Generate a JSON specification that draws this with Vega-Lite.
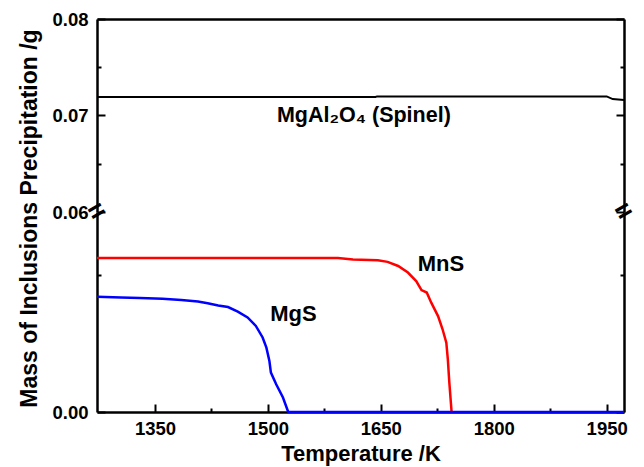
{
  "$schema": "https://vega.github.io/schema/vega-lite/v6.json",
  "padding": {"left": 17, "top": 10, "right": 5, "bottom": 5},
  "spacing": 0,
  "bounds": "flush",
  "datasets": {
    "spinel": [
      {"T": 1273, "mass": 0.07192},
      {"T": 1643, "mass": 0.07192},
      {"T": 1645, "mass": 0.07198},
      {"T": 1950, "mass": 0.07198},
      {"T": 1958, "mass": 0.0717},
      {"T": 1973, "mass": 0.0716}
    ],
    "mns": [
      {"T": 1273, "mass": 0.00562},
      {"T": 1593, "mass": 0.00562},
      {"T": 1613, "mass": 0.00557},
      {"T": 1646, "mass": 0.00554},
      {"T": 1659, "mass": 0.00548},
      {"T": 1673, "mass": 0.00533},
      {"T": 1686, "mass": 0.00509},
      {"T": 1697, "mass": 0.00478},
      {"T": 1704, "mass": 0.00445},
      {"T": 1711, "mass": 0.00436},
      {"T": 1717, "mass": 0.00399},
      {"T": 1726, "mass": 0.0035},
      {"T": 1732, "mass": 0.00302},
      {"T": 1737, "mass": 0.00253},
      {"T": 1739, "mass": 0.00192},
      {"T": 1741, "mass": 0.00107},
      {"T": 1744, "mass": 0}
    ],
    "mgs": [
      {"T": 1273, "mass": 0.00421},
      {"T": 1305, "mass": 0.00418},
      {"T": 1330, "mass": 0.00416},
      {"T": 1360, "mass": 0.00413},
      {"T": 1385, "mass": 0.00409},
      {"T": 1407, "mass": 0.00403},
      {"T": 1420, "mass": 0.00397},
      {"T": 1434, "mass": 0.00389},
      {"T": 1447, "mass": 0.00383},
      {"T": 1460, "mass": 0.00366},
      {"T": 1473, "mass": 0.00345},
      {"T": 1484, "mass": 0.00314},
      {"T": 1493, "mass": 0.00272},
      {"T": 1498, "mass": 0.00235},
      {"T": 1502, "mass": 0.00186},
      {"T": 1504, "mass": 0.00144},
      {"T": 1511, "mass": 0.00101},
      {"T": 1520, "mass": 0.00053},
      {"T": 1527, "mass": 0},
      {"T": 1973, "mass": 0}
    ],
    "topLabels": [{"T": 1512, "mass": 0.07, "label": "MgAl₂O₄ (Spinel)"}],
    "bottomLabels": [
      {"T": 1699, "mass": 0.00539, "label": "MnS"},
      {"T": 1503, "mass": 0.00357, "label": "MgS"}
    ],
    "breaks": [{"T": 1273, "mass": 0.06}, {"T": 1973, "mass": 0.06}]
  },
  "vconcat": [
    {
      "width": 527,
      "height": 193,
      "encoding": {
        "x": {
          "field": "T", "type": "quantitative",
          "scale": {"domain": [1273, 1973], "nice": false, "zero": false},
          "axis": {"orient": "top", "labels": false, "ticks": false, "title": null, "domain": true}
        }
      },
      "layer": [
        {
          "data": {"name": "spinel"},
          "mark": {"type": "line", "color": "black", "strokeWidth": 2},
          "encoding": {
            "y": {
              "field": "mass", "type": "quantitative",
              "scale": {"domain": [0.06, 0.08], "nice": false, "zero": false},
              "axis": {
                "orient": "left",
                "values": [0.06, 0.065, 0.07, 0.075, 0.08],
                "labelExpr": "abs(datum.value*100 - round(datum.value*100)) > 0.01 ? '' : format(datum.value, '.2f')",
                "tickSize": -8,
                "tickDash": {"condition": {"test": "abs(datum.value*100 - round(datum.value*100)) > 0.01", "value": [4, 40]}, "value": []},
                "labelPadding": 17,
                "title": "Mass of Inclusions Precipitation /g",
                "titleFontSize": 23,
                "titleY": 199,
                "titleX": -68,
                "titleBaseline": "middle",
                "titleAngle": -90
              }
            }
          }
        },
        {
          "data": {"name": "topLabels"},
          "mark": {"type": "text", "align": "left", "baseline": "middle", "fontSize": 21.5, "fontWeight": "bold", "color": "black"},
          "encoding": {
            "y": {"field": "mass", "type": "quantitative", "axis": null},
            "text": {"field": "label"}
          }
        },
        {
          "data": {"name": "breaks"},
          "mark": {"type": "text", "text": "=", "fontSize": 28, "fontWeight": "bold", "angle": 330, "align": "center", "baseline": "middle", "color": "black"},
          "encoding": {
            "y": {
              "field": "mass", "type": "quantitative",
              "axis": {
                "orient": "right",
                "values": [0.06, 0.065, 0.07, 0.075, 0.08],
                "labels": false,
                "title": null,
                "tickSize": -8,
                "tickDash": {"condition": {"test": "abs(datum.value*100 - round(datum.value*100)) > 0.01", "value": [4, 40]}, "value": []}
              }
            }
          }
        }
      ],
      "resolve": {"axis": {"y": "independent"}}
    },
    {
      "width": 527,
      "height": 200,
      "encoding": {
        "x": {
          "field": "T", "type": "quantitative",
          "scale": {"domain": [1273, 1973], "nice": false, "zero": false},
          "axis": {
            "orient": "bottom",
            "values": [1350, 1425, 1500, 1575, 1650, 1725, 1800, 1875, 1950],
            "format": "d",
            "labelExpr": "datum.value % 150 == 0 ? datum.label : ''",
            "tickSize": -8,
            "tickDash": {"condition": {"test": "datum.value % 150 != 0", "value": [4, 40]}, "value": []},
            "labelPadding": 15,
            "title": "Temperature /K",
            "titleFontSize": 22,
            "titlePadding": 6
          }
        }
      },
      "layer": [
        {
          "data": {"name": "mns"},
          "mark": {"type": "line", "color": "#ff0000", "strokeWidth": 2.5},
          "encoding": {
            "y": {
              "field": "mass", "type": "quantitative",
              "scale": {"domain": [0, 0.0073], "nice": false},
              "axis": {
                "orient": "left",
                "values": [0, 0.005],
                "labelExpr": "datum.value == 0 ? '0.00' : ''",
                "tickSize": -8,
                "tickDash": {"condition": {"test": "datum.value != 0", "value": [4, 40]}, "value": []},
                "labelPadding": 17,
                "title": null
              }
            }
          }
        },
        {
          "data": {"name": "mgs"},
          "mark": {"type": "line", "color": "#0000ff", "strokeWidth": 2.5},
          "encoding": {
            "y": {"field": "mass", "type": "quantitative", "axis": null}
          }
        },
        {
          "data": {"name": "bottomLabels"},
          "mark": {"type": "text", "align": "left", "baseline": "middle", "fontSize": 22, "fontWeight": "bold", "color": "black"},
          "encoding": {
            "y": {"field": "mass", "type": "quantitative", "axis": null},
            "text": {"field": "label"}
          }
        },
        {
          "data": {"name": "breaks"},
          "mark": {"type": "point", "opacity": 0},
          "encoding": {
            "y": {
              "datum": 0, "type": "quantitative",
              "axis": {
                "orient": "right",
                "values": [0, 0.005],
                "labels": false,
                "title": null,
                "tickSize": -8,
                "tickDash": {"condition": {"test": "datum.value != 0", "value": [4, 40]}, "value": []}
              }
            }
          }
        }
      ],
      "resolve": {"axis": {"y": "independent"}}
    }
  ],
  "config": {
    "font": "Liberation Sans",
    "view": {"stroke": null},
    "axis": {
      "grid": false,
      "domainColor": "black",
      "domainWidth": 2.5,
      "tickColor": "black",
      "tickWidth": 2,
      "labelFont": "Liberation Sans",
      "labelFontSize": 18.5,
      "labelFontWeight": "bold",
      "labelColor": "black",
      "titleFont": "Liberation Sans",
      "titleFontSize": 22,
      "titleFontWeight": "bold",
      "titleColor": "black"
    }
  }
}
